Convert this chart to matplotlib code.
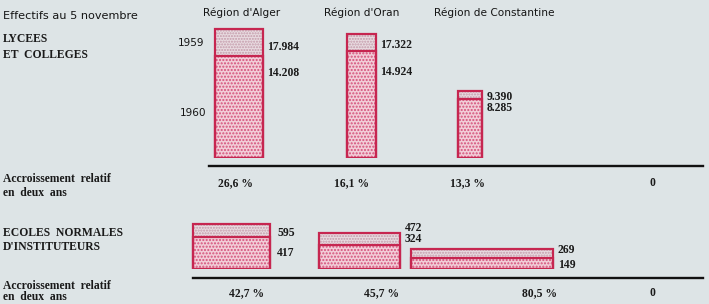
import numpy as np
import matplotlib
matplotlib.use('Agg')
import matplotlib.pyplot as plt

# data
regions = ["Région d'Alger", "Région d'Oran", "Région de Constantine"]
lycees_1959 = [14208, 14924, 8285]
lycees_1960 = [17984, 17322, 9390]
lycees_pct = ["26,6 %", "16,1 %", "13,3 %", "0"]
ecoles_1959 = [417, 324, 149]
ecoles_1960 = [595, 472, 269]
ecoles_pct = ["42,7 %", "45,7 %", "80,5 %", "0"]

W, H = 709, 304
BG = '#dde4e6'
EDGE = '#c62650'
LOW_FACE, LOW_DOT = '#f2cdd8', '#d4507a'
UP_FACE, UP_DOT = '#e8dbe0', '#c49aaa'

plt.rcParams['hatch.linewidth'] = 1.0

fig = plt.figure(figsize=(W / 100, H / 100), dpi=100, facecolor=BG)


def px_axes(y_top, y_bottom):
    """Axes spanning full width, between two pixel rows."""
    return fig.add_axes([0, (H - y_bottom) / H, 1, (y_bottom - y_top) / H])


def draw_stack(ax, lefts, widths, low, high):
    low = np.asarray(low)
    high = np.asarray(high)
    ax.bar(lefts, low, width=widths, align='edge', color=LOW_FACE,
           edgecolor=LOW_DOT, hatch='.....', linewidth=0)
    ax.bar(lefts, high - low, bottom=low, width=widths, align='edge',
           color=UP_FACE, edgecolor=UP_DOT, hatch='......', linewidth=0)
    ax.bar(lefts, low, width=widths, align='edge', fill=False,
           edgecolor=EDGE, linewidth=1.6)
    ax.bar(lefts, high, width=widths, align='edge', fill=False,
           edgecolor=EDGE, linewidth=1.6)


# --- top panel: lycées et collèges (vertical scale = effectifs)
s_top = 129 / 17984  # px per pupil
ax1 = px_axes(20, 158)
ax1.set_xlim(0, W)
ax1.set_ylim(0, (158 - 20) / s_top)
ax1.axis('off')
draw_stack(ax1, [215, 347, 458], [48, 29, 24], lycees_1959, lycees_1960)

# --- bottom panel: écoles normales
s_bot = 0.0756
ax2 = px_axes(215, 269)
ax2.set_xlim(0, W)
ax2.set_ylim(0, (269 - 215) / s_bot)
ax2.axis('off')
draw_stack(ax2, [193, 319, 411], [77, 81, 142], ecoles_1959, ecoles_1960)

# --- overlay for text and rules, pixel coordinates
ov = fig.add_axes([0, 0, 1, 1])
ov.set_xlim(0, W)
ov.set_ylim(H, 0)
ov.axis('off')
ov.patch.set_alpha(0)

sans = dict(family='DejaVu Sans', fontsize=7.6, color='#151515')
serif = dict(family='Liberation Serif', fontweight='bold', fontsize=8.4,
             color='#1a1a1a')

ov.text(3, 16, 'Effectifs au 5 novembre', va='center', fontsize=8.1,
        family='DejaVu Sans', color='#151515')
for xc, name in zip([242, 362, 494], regions):
    ov.text(xc, 13, name, ha='center', va='center', **sans)
ov.text(178, 43, '1959', va='center', **sans)
ov.text(180, 113, '1960', va='center', **sans)

ov.text(3, 39, 'LYCEES', va='center', **serif)
ov.text(3, 55, 'ET  COLLEGES', va='center', **serif)
ov.text(3, 179, 'Accroissement  relatif', va='center', **serif)
ov.text(3, 193, 'en  deux  ans', va='center', **serif)
ov.text(3, 233, 'ECOLES  NORMALES', va='center', **serif)
ov.text(3, 247, "D'INSTITUTEURS", va='center', **serif)
ov.text(3, 286, 'Accroissement  relatif', va='center', **serif)
ov.text(3, 297, 'en  deux  ans', va='center', **serif)

# value labels
fmt = lambda v: f'{v:,}'.replace(',', '.')
for x, y, v in zip([267, 380, 487], [47, 45, 97], lycees_1960):
    ov.text(x, y, fmt(v), va='center', **serif)
for x, y, v in zip([267, 380, 487], [73, 72, 108], lycees_1959):
    ov.text(x, y, fmt(v), va='center', **serif)
for x, y, v in zip([277, 405, 558], [233, 228, 250], ecoles_1960):
    ov.text(x, y, str(v), va='center', **serif)
for x, y, v in zip([277, 405, 558], [253, 239, 265], ecoles_1959):
    ov.text(x, y, str(v), va='center', **serif)

# rules and growth percentages
ov.plot([209, 703], [166, 166], color='#111111', lw=1.7)
ov.plot([193, 703], [278, 278], color='#111111', lw=1.7)
for xc, t in zip([235, 352, 467, 652], lycees_pct):
    ov.text(xc, 183, t, ha='center', va='center', **serif)
for xc, t in zip([247, 382, 540, 652], ecoles_pct):
    ov.text(xc, 293, t, ha='center', va='center', **serif)

fig.savefig('out.png', dpi=100, facecolor=BG)
